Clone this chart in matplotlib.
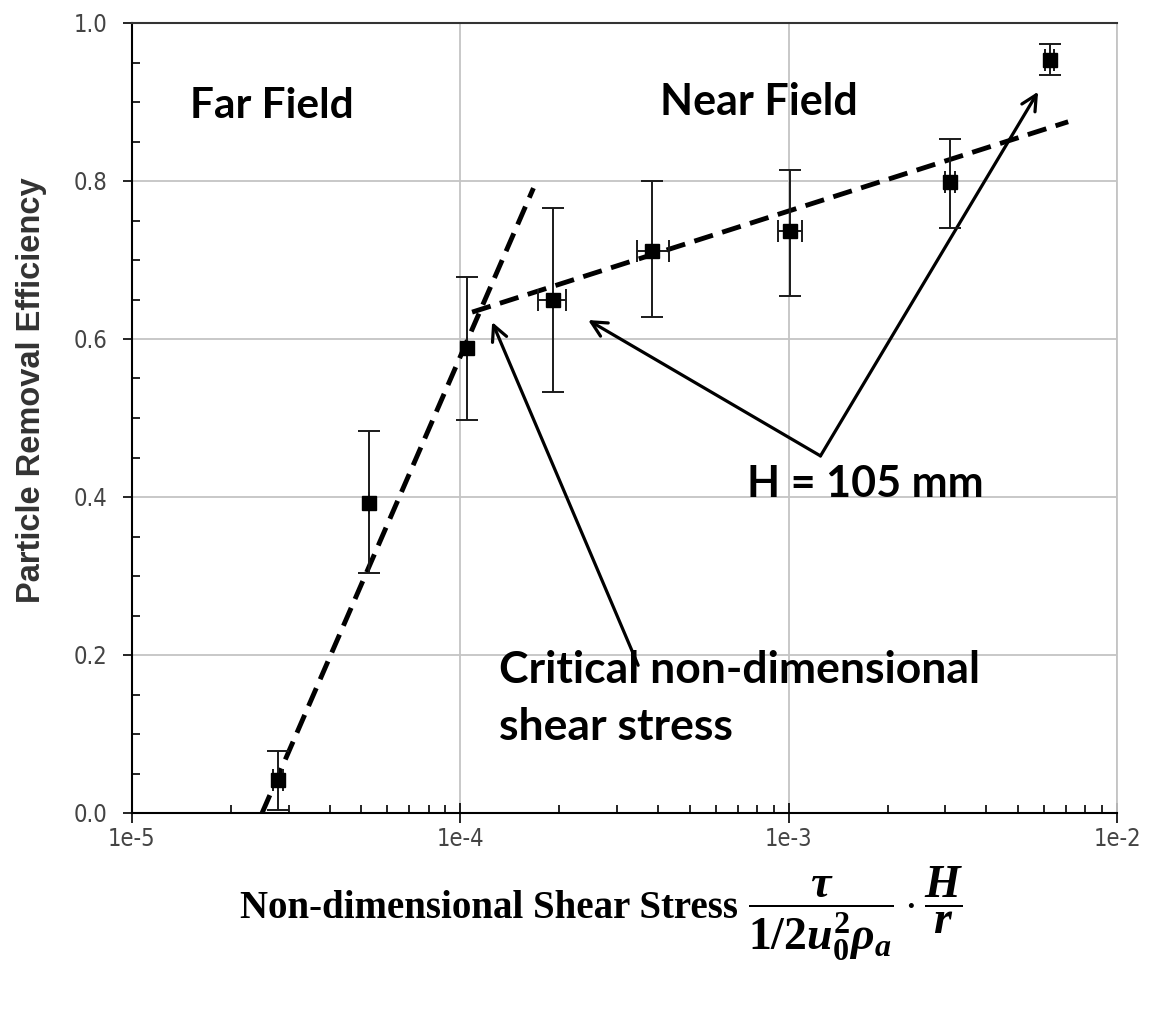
import matplotlib
matplotlib.use("Agg")
import matplotlib.pyplot as plt
from matplotlib.ticker import LogLocator, FixedLocator, MultipleLocator, FixedFormatter

# =============================
# Data
# =============================

x_vals = [2.78e-5, 5.27e-5, 1.046e-4, 1.91e-4, 3.83e-4, 1.01e-3, 3.1e-3, 6.25e-3]
y_vals = [0.042, 0.392, 0.589, 0.649, 0.711, 0.737, 0.799, 0.953]
y_lo = [0.004, 0.304, 0.497, 0.533, 0.628, 0.654, 0.741, 0.934]
y_hi = [0.078, 0.484, 0.678, 0.766, 0.800, 0.814, 0.853, 0.973]
x_lo = [2.69e-5, 5.27e-5, 1.046e-4, 1.72e-4, 3.46e-4, 0.93e-3, 3.0e-3, 6.05e-3]
x_hi = [2.88e-5, 5.27e-5, 1.046e-4, 2.10e-4, 4.33e-4, 1.10e-3, 3.2e-3, 6.45e-3]

# fitted trend lines (far field / near field)
far_x = [2.49e-5, 1.67e-4]
far_y = [0.0, 0.791]
near_x = [1.086e-4, 7.1e-3]
near_y = [0.634, 0.875]

x_ticks = [1e-5, 1e-4, 1e-3, 1e-2]
x_ticklabels = ["1e-5", "1e-4", "1e-3", "1e-2"]
y_ticks = [0.0, 0.2, 0.4, 0.6, 0.8, 1.0]
y_ticklabels = ["0.0", "0.2", "0.4", "0.6", "0.8", "1.0"]

TXT_FONT = ["Lato", "DejaVu Sans"]

plt.rcParams["mathtext.fontset"] = "custom"
plt.rcParams["mathtext.rm"] = "Liberation Serif:bold"
plt.rcParams["mathtext.it"] = "Liberation Serif:italic:bold"
plt.rcParams["mathtext.bf"] = "Liberation Serif:bold"


def main() -> None:
    fig = plt.figure(figsize=(11.55, 10.17), dpi=100)
    ax = fig.add_axes([132 / 1155, 1 - 813 / 1017, (1117 - 132) / 1155, (813 - 23) / 1017])

    ax.set_xscale("log")
    ax.set_xlim(1e-5, 1e-2)
    ax.set_ylim(0.0, 1.0)

    # grid
    ax.grid(True, which="major", color="#c4c4c4", linewidth=1.3)
    ax.set_axisbelow(True)

    # trend lines
    for lx, ly in ((far_x, far_y), (near_x, near_y)):
        ax.plot(lx, ly, color="black", linewidth=3.5, linestyle=(0, (4.0, 2.0)),
                solid_capstyle="butt", zorder=4)

    # data with error bars
    xerr = [[x - lo for x, lo in zip(x_vals, x_lo)], [hi - x for x, hi in zip(x_vals, x_hi)]]
    yerr = [[y - lo for y, lo in zip(y_vals, y_lo)], [hi - y for y, hi in zip(y_vals, y_hi)]]
    ax.errorbar(x_vals, y_vals, xerr=xerr, yerr=yerr, fmt="s", color="black",
                markersize=10, ecolor="#1a1a1a", elinewidth=1.4, capsize=8,
                capthick=1.4, zorder=5)

    # ticks
    ax.xaxis.set_major_locator(FixedLocator(x_ticks))
    ax.xaxis.set_major_formatter(FixedFormatter(x_ticklabels))
    ax.xaxis.set_minor_locator(LogLocator(base=10, subs=range(2, 10)))
    ax.yaxis.set_major_locator(FixedLocator(y_ticks))
    ax.yaxis.set_major_formatter(FixedFormatter(y_ticklabels))
    ax.yaxis.set_minor_locator(MultipleLocator(0.05))

    ax.tick_params(axis="x", which="major", direction="inout", length=14, width=1.2,
                   pad=3, labelsize=17, labelcolor="#444444")
    ax.tick_params(axis="x", which="minor", direction="in", length=6, width=1.2)
    ax.tick_params(axis="y", which="major", direction="out", length=6.5, width=1.2,
                   pad=11, labelsize=17, labelcolor="#444444")
    ax.tick_params(axis="y", which="minor", direction="in", length=6, width=1.2)
    for lab in ax.get_xticklabels() + ax.get_yticklabels():
        lab.set_family(["DejaVu Sans"])
        lab.set_stretch("condensed")
        lab.set_weight("light")

    ax.spines["left"].set_linewidth(1.5)
    ax.spines["bottom"].set_linewidth(1.5)
    ax.spines["top"].set_color("#333333")
    ax.spines["top"].set_linewidth(1.5)
    ax.spines["right"].set_color("#c4c4c4")
    ax.spines["right"].set_linewidth(1.3)

    ax.set_ylabel("Particle Removal Efficiency", fontsize=23.5, fontweight="bold",
                  color="#333333", family=["Liberation Sans", "DejaVu Sans"])
    ax.yaxis.set_label_coords(-(132 - 47) / (1117 - 132), (813 - 390) / (813 - 23))

    # region labels and annotations
    tkw = dict(fontweight="bold", family=TXT_FONT, color="black")
    ax.text(1.50e-5, 0.895, "Far Field", ha="left", va="center", fontsize=30.5, **tkw)
    ax.text(4.06e-4, 0.90, "Near Field", ha="left", va="center", fontsize=31, **tkw)
    ax.text(7.47e-4, 0.4165, "H = 105 mm", ha="left", va="center", fontsize=31, **tkw)
    ax.text(1.31e-4, 0.165, "Critical non-dimensional", ha="left", va="baseline",
            fontsize=32, **tkw)
    ax.text(1.31e-4, 0.093, "shear stress", ha="left", va="baseline", fontsize=32, **tkw)

    akw = dict(arrowstyle="->,head_length=1.1,head_width=0.55", color="black",
               linewidth=2.3, shrinkA=0, shrinkB=0)
    ax.annotate("", xy=(1.25e-4, 0.6215), xytext=(3.48e-4, 0.187), arrowprops=akw)
    ax.annotate("", xy=(2.45e-4, 0.624), xytext=(1.25e-3, 0.452), arrowprops=akw)
    ax.annotate("", xy=(5.75e-3, 0.913), xytext=(1.25e-3, 0.452), arrowprops=akw)

    # x label: words plus the math expression below the axis
    base_y = 1 - 918 / 1017
    fig.text(738 / 1155, base_y, "Non-dimensional Shear Stress", ha="right",
             va="baseline", fontsize=28, fontweight="bold",
             family=["Liberation Serif", "DejaVu Serif"])
    fig.text(748 / 1155, base_y, r"$\dfrac{\tau}{1/2u_0^2\rho_a}\cdot\dfrac{H}{r}$",
             ha="left", va="baseline", fontsize=33)

    fig.savefig("out.png", dpi=100)
    plt.close(fig)


if __name__ == "__main__":
    main()
